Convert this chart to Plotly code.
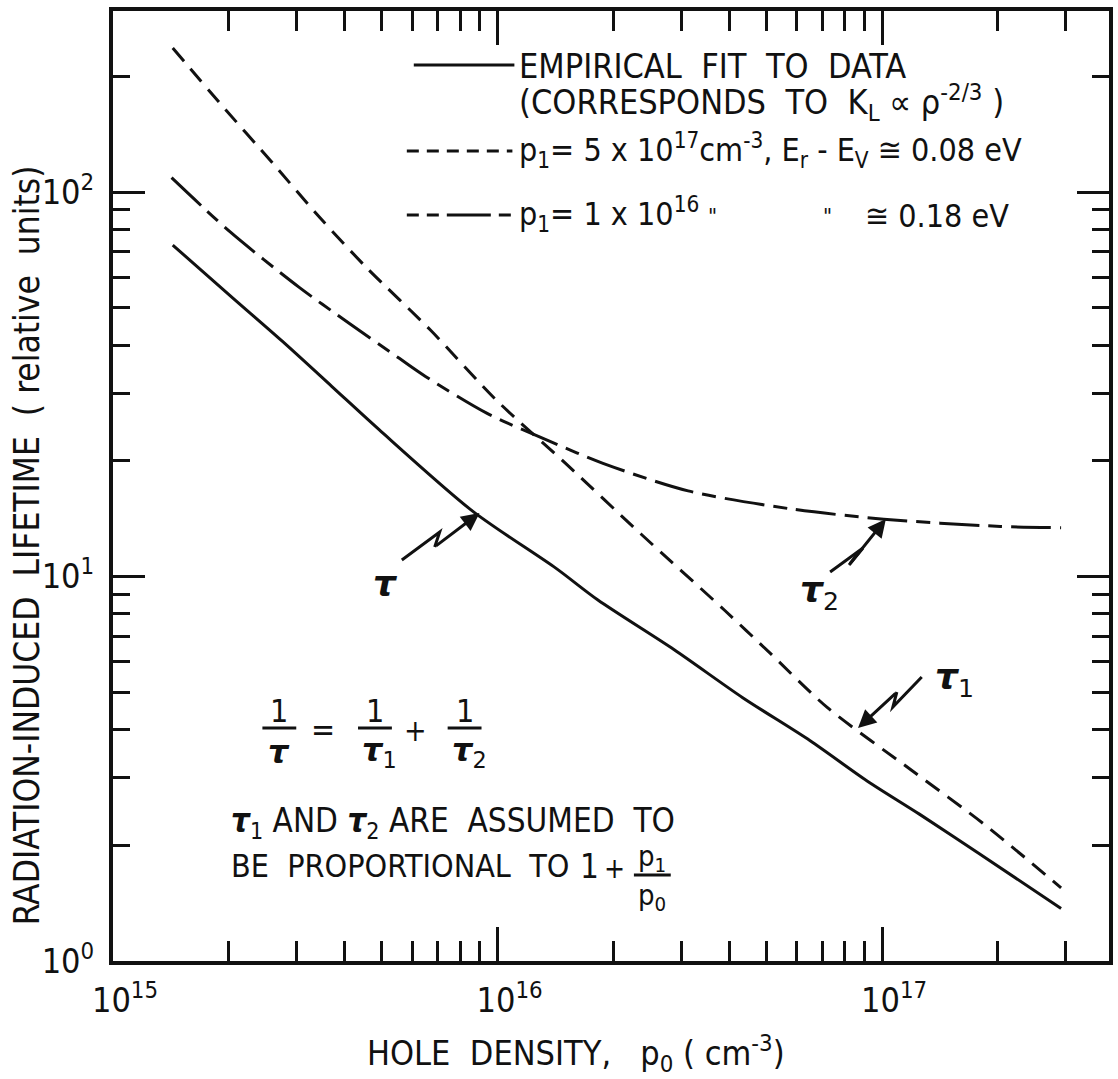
import plotly.graph_objects as go

# ---------------- data ----------------
x_tau = [1.43e15, 2.05e15, 2.75e15, 3.71e15, 4.92e15, 8.61e15, 1.42e16, 1.82e16,
         2.88e16, 4.34e16, 6.50e16, 9.14e16, 1.25e17, 1.79e17, 2.92e17]
y_tau = [72.8, 53.0, 41.0, 31.2, 24.1, 14.8, 10.5, 8.7,
         6.45, 4.84, 3.74, 2.94, 2.41, 1.90, 1.37]

x_tau1 = [1.43e15, 1.89e15, 2.60e15, 3.44e15, 4.55e15, 6.70e15, 9.88e15, 1.51e16,
          2.36e16, 3.90e16, 5.13e16, 7.21e16, 1.20e17, 1.84e17, 2.92e17]
y_tau1 = [237, 171, 119, 86.1, 63.8, 43.7, 28.9, 19.6,
          12.9, 8.16, 6.30, 4.56, 3.12, 2.27, 1.55]

x_tau2 = [1.42e15, 2.01e15, 3.05e15, 4.11e15, 5.54e15, 6.51e15, 9.37e15, 1.35e16,
          1.88e16, 3.13e16, 5.78e16, 1.01e17, 2.03e17, 2.92e17]
y_tau2 = [109, 79.0, 56.5, 45.6, 37.0, 33.1, 26.6, 22.6,
          19.7, 16.7, 15.0, 14.1, 13.5, 13.4]

x_tickvals = [1e15, 1e16, 1e17]
x_ticktext = ["10<sup>15</sup>", "10<sup>16</sup>", "10<sup>17</sup>"]
y_tickvals = [1, 10, 100]
y_ticktext = ["10<sup>0</sup>", "10<sup>1</sup>", "10<sup>2</sup>"]
x_minor = [m * 10 ** e for e in (15, 16, 17) for m in range(2, 10)]
y_minor = [m * 10 ** e for e in (0, 1, 2) for m in range(2, 10)]

legend_texts = [
    "EMPIRICAL  FIT  TO  DATA",
    "(CORRESPONDS  TO  K<sub>L</sub> \u221d \u03c1<sup>-2/3</sup> )",
    "p<sub>1</sub>= 5 x 10<sup>17</sup>cm<sup>-3</sup>, E<sub>r</sub> - E<sub>V</sub> \u2245 0.08 eV",
    "p<sub>1</sub>= 1 x 10<sup>16</sup>",
]

# ---------------- layout geometry ----------------
W, H = 1118, 1079
L, R, T, B = 113, 1113, 11, 961


def px(x):
    return (x - L) / (R - L)


def py(y):
    return (B - y) / (B - T)


FONT = "Liberation Sans Narrow, DejaVu Sans Condensed, Arial Narrow, sans-serif"
TAU = "DejaVu Sans, sans-serif"
BLACK = "#111"

fig = go.Figure()
fig.add_trace(go.Scatter(x=x_tau, y=y_tau, mode="lines", line=dict(color=BLACK, width=3, shape="spline", smoothing=0.8)))
fig.add_trace(go.Scatter(x=x_tau1, y=y_tau1, mode="lines",
                         line=dict(color=BLACK, width=3, shape="spline", smoothing=0.8, dash="17px,10px")))
fig.add_trace(go.Scatter(x=x_tau2, y=y_tau2, mode="lines",
                         line=dict(color=BLACK, width=3, shape="spline", smoothing=0.8, dash="40px,9px,14px,9px")))

shapes = []
annotations = []


def text(x, y, s, size=34, anchor="left", family=FONT, yanchor="middle"):
    annotations.append(dict(x=px(x), y=py(y), xref="paper", yref="paper", text=s, showarrow=False,
                            xanchor=anchor, yanchor=yanchor, font=dict(family=family, size=size, color=BLACK)))


def hline(x0, x1, y, dash="solid", width=3):
    shapes.append(dict(type="line", xref="paper", yref="paper", x0=px(x0), x1=px(x1), y0=py(y), y1=py(y),
                       line=dict(color=BLACK, width=width, dash=dash)))


# legend
hline(415, 516, 65)
hline(408, 514, 151, dash="12px,8px")
hline(408, 514, 215, dash="12px,8px,12px,8px,44px,8px")
text(519, 66, legend_texts[0])
text(519, 103, legend_texts[1])
text(519, 150, legend_texts[2], size=32)
text(519, 214, legend_texts[3], size=32)
text(715, 216, "\"", size=22, anchor="center")
text(830, 216, "\"", size=22, anchor="center")
text(866, 216, "\u2245 0.18 eV", size=32)


# zig-zag arrows
def zig(pts):
    (ax_, ay_), (bx, by), (cx, cy), (dx, dy) = pts
    path = "M {} {} L {} {} L {} {}".format(px(ax_), py(ay_), px(bx), py(by), px(cx), py(cy))
    shapes.append(dict(type="path", xref="paper", yref="paper", path=path, line=dict(color=BLACK, width=3)))
    annotations.append(dict(x=px(dx), y=py(dy), xref="paper", yref="paper", text="", showarrow=True,
                            ax=cx - dx, ay=cy - dy, arrowhead=2, arrowsize=1.2, arrowwidth=3,
                            arrowcolor=BLACK, standoff=0))


zig([(403, 560), (441, 532), (436, 547), (481, 513)])
zig([(833, 572), (866, 548), (852, 565), (889, 519)])
zig([(925, 677), (896, 707), (900, 692), (861, 728)])

text(387, 583, "<b><i>\u03c4</i></b>", size=36, anchor="center", family=TAU)
text(822, 592, "<b><i>\u03c4</i></b><sub>2</sub>", size=36, anchor="center", family=TAU)
text(958, 680, "<b><i>\u03c4</i></b><sub>1</sub>", size=36, anchor="center", family=TAU)

# formula 1/tau = 1/tau1 + 1/tau2
for cx_, den in ((280, "<b><i>\u03c4</i></b>"), (376, "<b><i>\u03c4</i></b><sub>1</sub>"),
                 (466, "<b><i>\u03c4</i></b><sub>2</sub>")):
    text(cx_, 711, "1", size=32, anchor="center")
    hline(cx_ - 17, cx_ + 17, 728)
    text(cx_ + (0 if den.endswith("</b>") else 5), 752, den, size=32, anchor="center", family=TAU)
text(324, 730, "=", size=32, anchor="center")
text(417, 730, "+", size=30, anchor="center")

# assumption text
text(229, 822, "<b><i>\u03c4</i></b><sub>1</sub> AND <b><i>\u03c4</i></b><sub>2</sub> ARE  ASSUMED  TO", size=33)
text(229, 866, "BE  PROPORTIONAL  TO", size=32)
text(591, 866, "1", size=33, anchor="center")
text(617, 868, "+", size=28, anchor="center")
text(654, 858, "p<sub>1</sub>", size=29, anchor="center")
hline(636, 673, 875)
text(654, 897, "p<sub>0</sub>", size=29, anchor="center")

# axis titles
text(578, 1053, "HOLE  DENSITY,   p<sub>0</sub> ( cm<sup>-3</sup>)", size=34, anchor="center")
annotations.append(dict(x=px(27), y=py(545), xref="paper", yref="paper",
                        text="RADIATION-INDUCED  LIFETIME  ( relative  units)", textangle=-90, showarrow=False,
                        xanchor="center", yanchor="middle", font=dict(family=FONT, size=35, color=BLACK)))

axis_common = dict(type="log", showline=True, linewidth=4, linecolor=BLACK, mirror="ticks",
                   ticks="inside", tickwidth=3, tickcolor=BLACK, showgrid=False, zeroline=False,
                   tickmode="array", tickfont=dict(family=FONT, size=34, color=BLACK))

fig.update_layout(
    width=W, height=H, paper_bgcolor="white", plot_bgcolor="white", showlegend=False,
    margin=dict(l=L, r=W - R, t=T, b=H - B),
    xaxis=dict(axis_common, range=[15, 17.59], tickvals=x_tickvals, ticktext=x_ticktext, ticklen=34,
               ticklabelshift=12, ticklabelstandoff=6,
               minor=dict(tickmode="array", tickvals=x_minor, ticks="inside", ticklen=20, tickwidth=3,
                          tickcolor=BLACK, showgrid=False)),
    yaxis=dict(axis_common, range=[0, 2.471], tickvals=y_tickvals, ticktext=y_ticktext, ticklen=32,
               ticklabelstandoff=8,
               minor=dict(tickmode="array", tickvals=y_minor, ticks="inside", ticklen=17, tickwidth=3,
                          tickcolor=BLACK, showgrid=False)),
    shapes=shapes, annotations=annotations,
)

fig.write_html("out.html")
